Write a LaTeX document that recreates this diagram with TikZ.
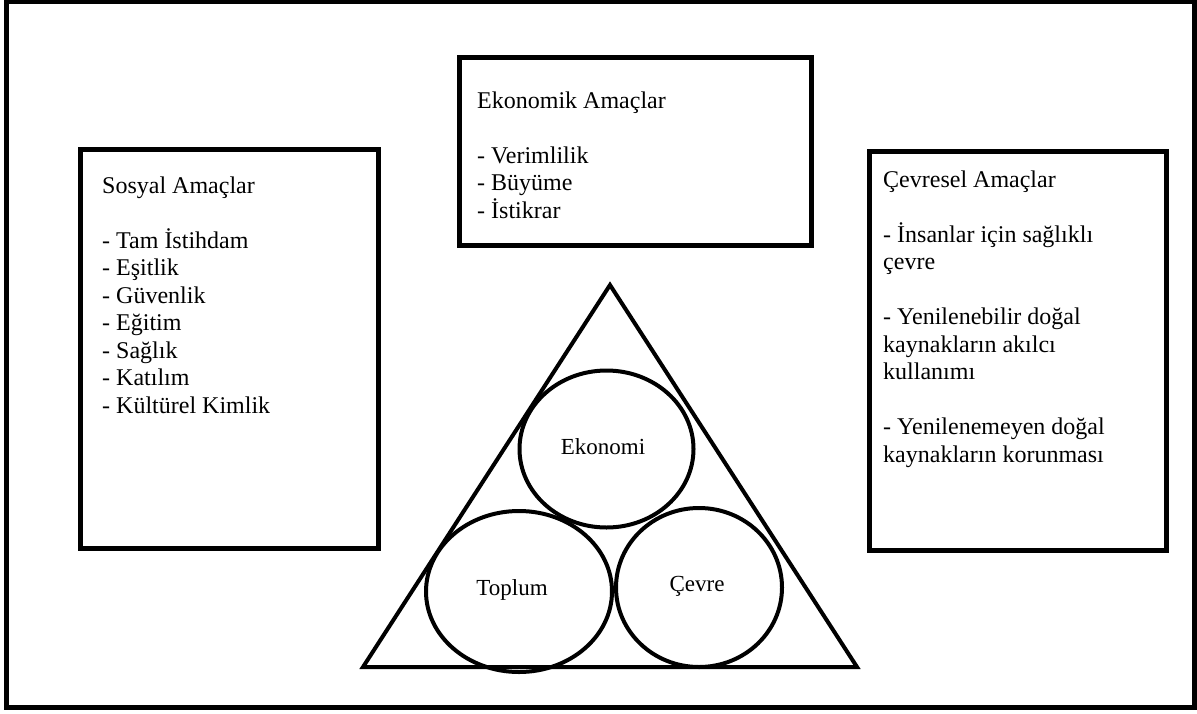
\documentclass[tikz,border=0pt]{standalone}
\usepackage{fontspec}
\setmainfont{Liberation Serif}
\usetikzlibrary{shapes.geometric}

\begin{document}
\begin{tikzpicture}[x=1pt,y=-1pt,
    goalbox/.style={draw,line width=5pt},
    goaltext/.style={anchor=north west,inner sep=0pt,align=left,font=\fontsize{24}{27.5}\selectfont},
    pillar/.style={draw,ellipse,line width=4pt,inner sep=0pt},
    pillarlabel/.style={anchor=base,inner sep=0pt,font=\fontsize{23}{27}\selectfont}]
    % Fix the page size
    \useasboundingbox (0,0) rectangle (1197,713);

    % Draw the outer frame
    \draw[line width=5pt] (6,1.5) rectangle (1194,707);

    % Draw the three goal boxes
    \draw[goalbox] (80,149) rectangle (378,548);
    \draw[goalbox] (459,57) rectangle (811,245);
    \draw[goalbox] (869,151) rectangle (1166,550);

    % Texts of the goal boxes
    \node[goaltext] (sosyal) at (102,176.6) {Sosyal Amaçlar\\[27.5pt]
        - Tam İstihdam\\- Eşitlik\\- Güvenlik\\- Eğitim\\- Sağlık\\- Katılım\\- Kültürel Kimlik};
    \node[goaltext] (ekonomik) at (477,91.6) {Ekonomik Amaçlar\\[27.5pt]
        - Verimlilik\\- Büyüme\\- İstikrar};
    \node[goaltext] (cevresel) at (883,170.6) {Çevresel Amaçlar\\[27.5pt]
        - İnsanlar için sağlıklı\\çevre\\[27.5pt]
        - Yenilenebilir doğal\\kaynakların akılcı\\kullanımı\\[27.5pt]
        - Yenilenemeyen doğal\\kaynakların korunması};

    % Draw the triangle
    \draw[line width=4pt] (610,285) -- (857,667) -- (363,667) -- cycle;

    % Draw the three circles
    \node[pillar,minimum width=174pt,minimum height=157pt] (ekonomi) at (606.5,449) {};
    \node[pillar,minimum width=186pt,minimum height=161pt] (toplum) at (519,591.5) {};
    \node[pillar,minimum width=166pt,minimum height=159pt] (cevre) at (699,587.5) {};

    % Label the circles
    \node[pillarlabel] (ekonomilabel) at (603,454) {Ekonomi};
    \node[pillarlabel] (toplumlabel) at (512,595) {Toplum};
    \node[pillarlabel] (cevrelabel) at (697,591) {Çevre};
\end{tikzpicture}
\end{document}
